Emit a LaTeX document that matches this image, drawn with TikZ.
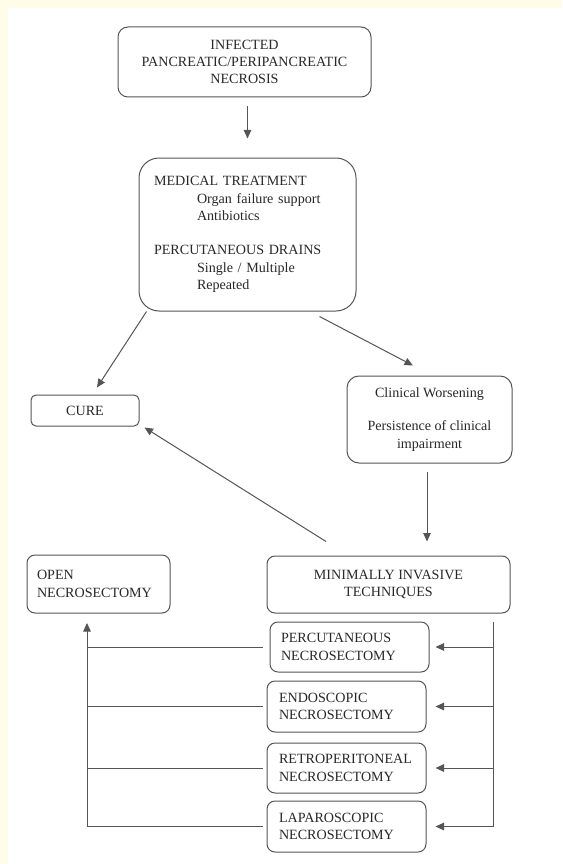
\documentclass[tikz,border=0pt]{standalone}
\usepackage{fontspec}
\setmainfont{Liberation Serif}
\usetikzlibrary{arrows.meta,calc}
\definecolor{cream}{RGB}{255,252,232}
\definecolor{ln}{RGB}{85,85,85}
\definecolor{tx}{RGB}{40,40,40}
\begin{document}
\begin{tikzpicture}[x=1pt,y=-1pt,
  box/.style={draw=ln, line width=1pt, text=tx, font=\fontsize{14.1}{17.3}\selectfont, inner sep=0pt, align=center},
  lbox/.style={box, align=left},
  conn/.style={draw=ln, line width=1pt},
  arr/.style={conn, -{Triangle[length=8.5pt,width=7.5pt]}}]
\useasboundingbox (0,0) rectangle (562,864);
\fill[cream] (0,0) rectangle (562,864);
\fill[white] (8,8) rectangle (562,864);

\node[box, rounded corners=10pt, minimum width=253, minimum height=70] (top) at (244.5,62)
  {INFECTED\\PANCREATIC/PERIPANCREATIC\\NECROSIS};
\node[lbox, rounded corners=20pt, minimum height=153, inner xsep=15pt, text width=187] (med) at (247.5,234.5)
  {MEDICAL TREATMENT\\\hspace*{43pt}Organ failure support\\\hspace*{43pt}Antibiotics\\[17.3pt]
   PERCUTANEOUS DRAINS\\\hspace*{43pt}Single / Multiple\\\hspace*{43pt}Repeated};
\node[box, rounded corners=5pt, minimum width=108, minimum height=31] (cure) at (85,410.5) {CURE};
\node[box, rounded corners=12pt, minimum width=165, minimum height=87] (clin) at (429.5,419.5)
  {Clinical Worsening\\[16pt]Persistence of clinical\\impairment};
\node[lbox, rounded corners=8pt, minimum height=58, inner xsep=10pt, text width=123] (open) at (98.5,584)
  {OPEN\\NECROSECTOMY};
\node[box, rounded corners=8pt, minimum width=243, minimum height=57] (mit) at (388.5,584.5)
  {MINIMALLY INVASIVE\\TECHNIQUES};
\node[lbox, rounded corners=8pt, minimum height=50, inner xsep=11pt, text width=137] (perc) at (349.5,647)
  {PERCUTANEOUS\\NECROSECTOMY};
\node[lbox, rounded corners=8pt, minimum height=51, inner xsep=12pt, text width=135] (endo) at (346.5,706.5)
  {ENDOSCOPIC\\NECROSECTOMY};
\node[lbox, rounded corners=8pt, minimum height=50, inner xsep=12pt, text width=135] (retro) at (346.5,768)
  {RETROPERITONEAL\\NECROSECTOMY};
\node[lbox, rounded corners=8pt, minimum height=51, inner xsep=12pt, text width=135] (lap) at (346.5,826.5)
  {LAPAROSCOPIC\\NECROSECTOMY};

% main arrows
\draw[arr, shorten <=9pt, shorten >=19pt] (top.south -| med.north) -- (med.north);
\draw[arr] ([xshift=8pt]med.south west) -- ([xshift=12pt,yshift=7pt]cure.north);
\draw[arr] ([xshift=-37pt,yshift=-5pt]med.south east) -- ([xshift=-16.5pt,yshift=10pt]clin.north);
\draw[arr] ([xshift=-2.5pt,yshift=-8pt]clin.south) -- ([xshift=38.5pt,yshift=14pt]mit.north);
\draw[arr] ([xshift=-62.5pt,yshift=14pt]mit.north) -- ([xshift=5pt,yshift=-1pt]cure.south east);

% right bus
\coordinate (rbus) at (493,622);
\draw[conn] (rbus) -- (rbus |- lap.east);
\draw[arr] (rbus |- perc.east) -- ([xshift=6pt]perc.east);
\draw[arr] (rbus |- endo.east) -- ([xshift=9pt]endo.east);
\draw[arr] (rbus |- retro.east) -- ([xshift=9pt]retro.east);
\draw[arr] (rbus |- lap.east) -- ([xshift=9pt]lap.east);

% left bus
\coordinate (lbus) at (87,623);
\coordinate (lend) at (263,0);
\draw[conn] (perc.west -| lend) -- (perc.west -| lbus);
\draw[conn] (endo.west -| lend) -- (endo.west -| lbus);
\draw[conn] (retro.west -| lend) -- (retro.west -| lbus);
\draw[conn] (lap.west -| lend) -- (lap.west -| lbus);
\draw[arr] (lap.west -| lbus) -- (lbus);
\end{tikzpicture}
\end{document}
